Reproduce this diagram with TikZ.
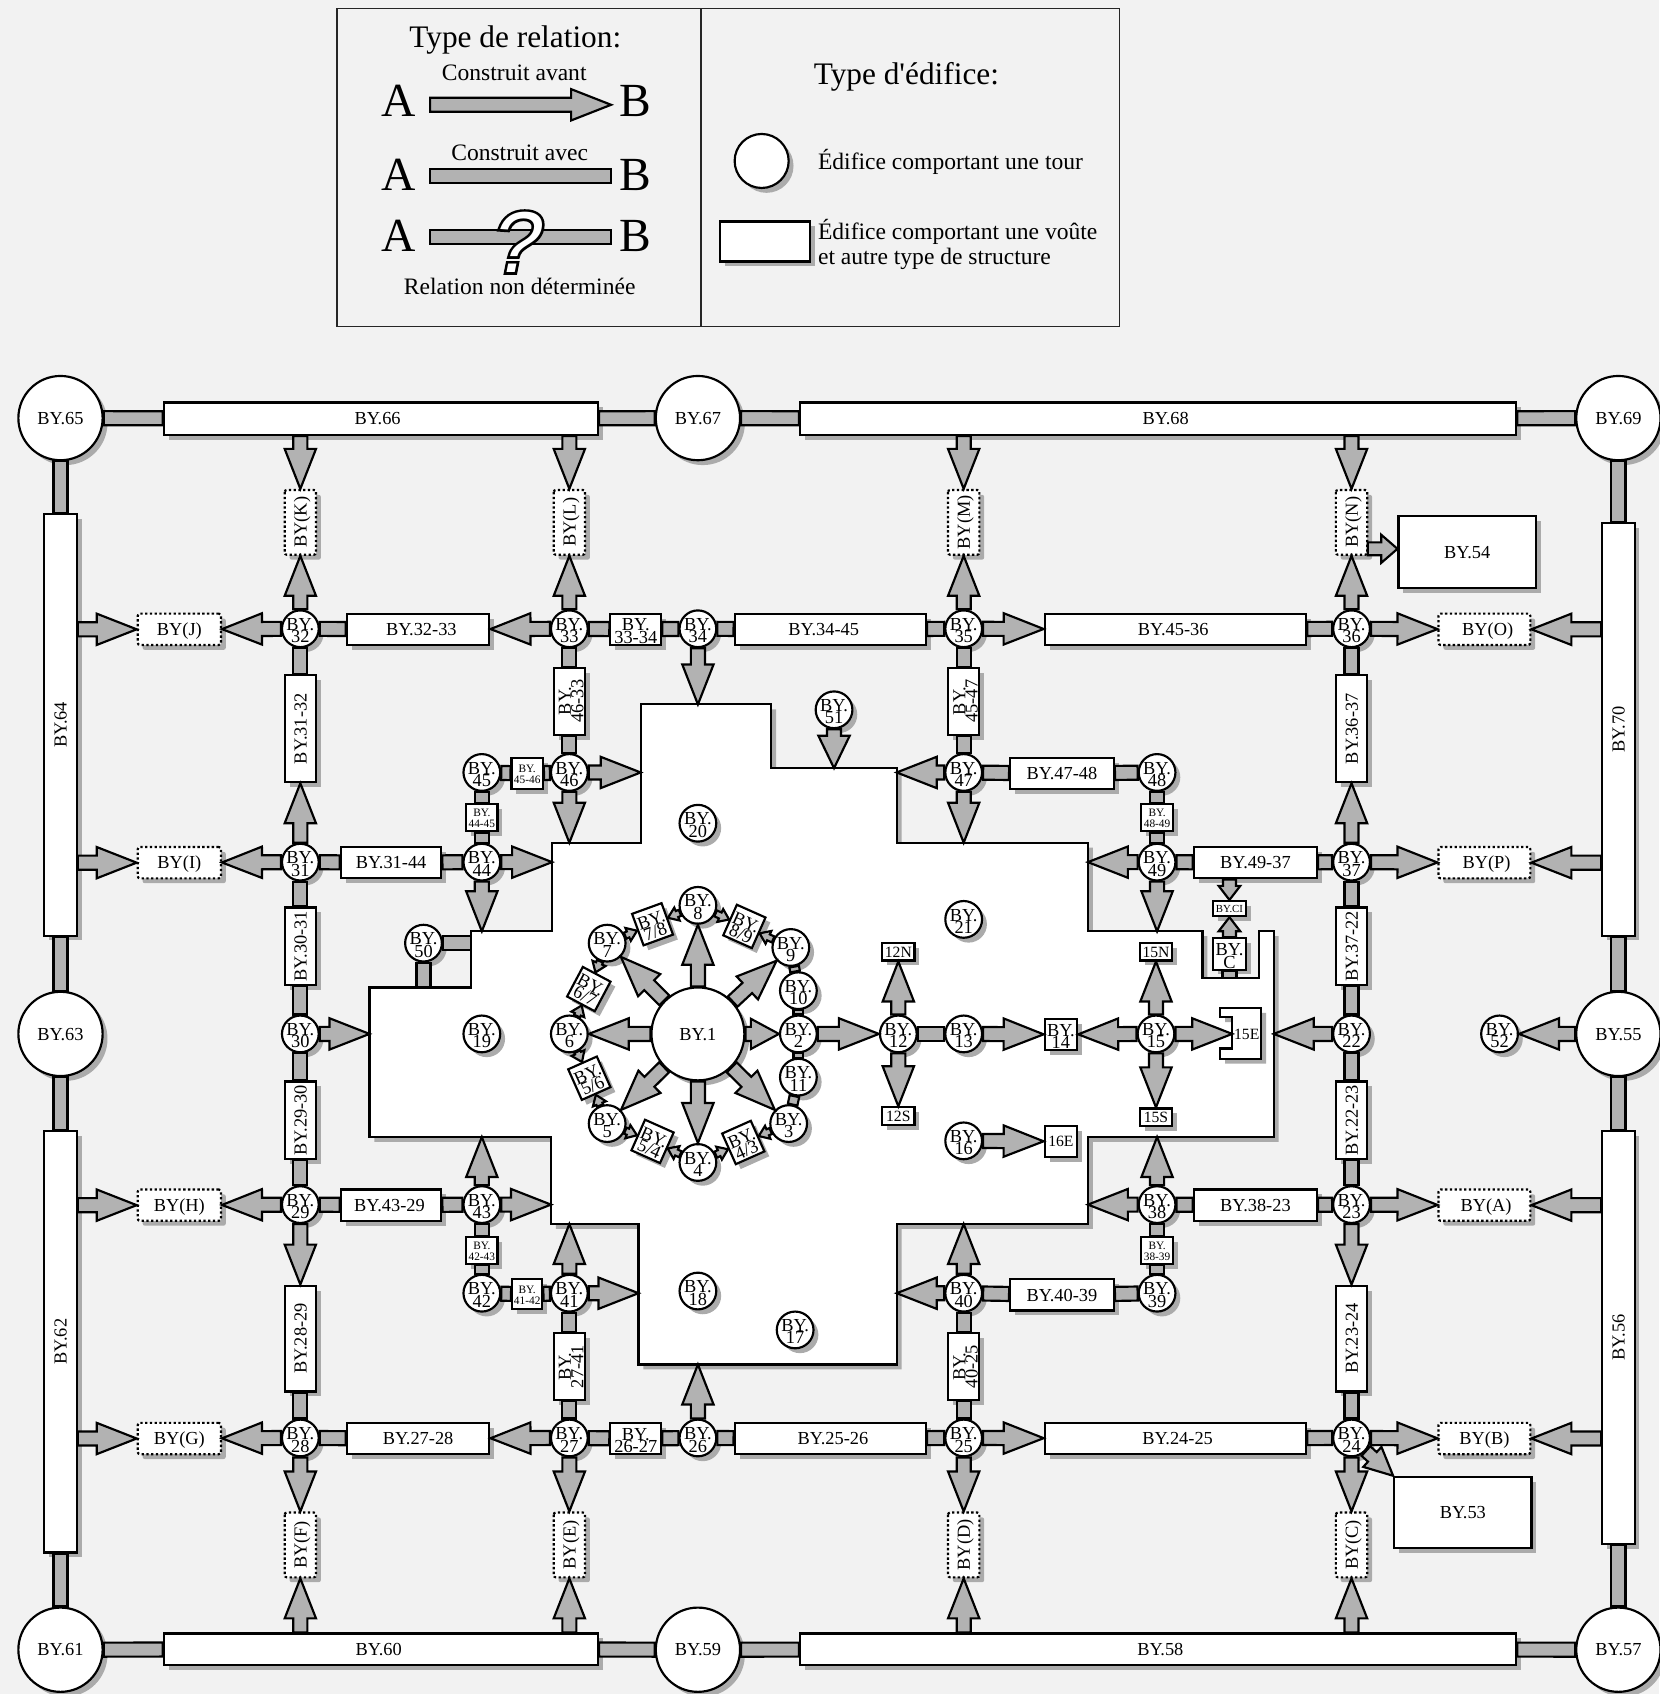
\documentclass[tikz,border=0pt]{standalone}
\usepackage{fontspec}
\setmainfont{Liberation Serif}
\newfontfamily\droit{Liberation Serif}
\newfontfamily\qnoir[FakeSlant=0.2,FakeBold=6]{Liberation Sans}
\newfontfamily\qblanc[FakeSlant=0.2]{Liberation Sans}
\usetikzlibrary{calc,shadows}

% two-line labels of no size, so that the box keeps its own size
\newcommand{\stk}[2]{\makebox[0pt]{\raisebox{4.25pt}[0pt][0pt]{#1}}\makebox[0pt]{\raisebox{-7.25pt}[0pt][0pt]{#2}}}
\newcommand{\stkp}[2]{\makebox[0pt]{\raisebox{6.75pt}[0pt][0pt]{\fontsize{10.5}{9}\selectfont #1}}\makebox[0pt]{\raisebox{-3.25pt}[0pt][0pt]{\fontsize{10.5}{9}\selectfont #2}}}
% block arrows: head length, head half width, shaft half width, from, to
\newcommand{\flecheg}[5]{%
  \path (#4) -- (#5) coordinate[pos=0] (fa) coordinate[pos=1] (fb);
  \coordinate (fh) at ($(fb)!#1!(fa)$);
  \draw[arr] ($(fa)!#3!90:(fb)$) -- ($(fh)!#3!90:(fb)$) -- ($(fh)!#2!90:(fb)$) -- (fb)
    -- ($(fh)!#2!-90:(fb)$) -- ($(fh)!#3!-90:(fb)$) -- ($(fa)!#3!-90:(fb)$) -- cycle;}
\newcommand{\fle}[2]{\flecheg{37pt}{14.5pt}{6.5pt}{#1}{#2}}
\newcommand{\flem}[2]{\flecheg{26pt}{12.5pt}{6pt}{#1}{#2}}
\newcommand{\flep}[2]{\flecheg{9pt}{6.5pt}{3pt}{#1}{#2}}
\newcommand{\barre}[3][6.5pt]{%
  \path (#2) -- (#3) coordinate[pos=0] (fa) coordinate[pos=1] (fb);
  \draw[arr] ($(fa)!#1!90:(fb)$) -- ($(fb)!#1!-90:(fa)$) -- ($(fb)!#1!90:(fa)$) -- ($(fa)!#1!-90:(fb)$) -- cycle;}

\begin{document}
\begin{tikzpicture}[
  x=1pt, y=-1pt,
  font=\fontsize{17}{12}\selectfont,
  ombre/.style={general shadow={fill=black!33, shadow xshift=4.5pt, shadow yshift=-4.5pt}},
  arr/.style={draw=black, fill=black!30, line width=2pt},
  tour/.style={circle, draw=black, fill=white, line width=2pt, inner sep=0pt, minimum size=34pt, text height=11.5pt, text depth=0pt, ombre},
  gtour/.style={tour, minimum size=78pt},
  bloc/.style 2 args={rectangle, draw=black, fill=white, line width=2pt, inner sep=0pt, text height=11.5pt, text depth=0pt,
    minimum width=#1, minimum height=#2, ombre},
  incert/.style 2 args={bloc={#1}{#2}, dash pattern=on 2.2pt off 2.2pt, rounded corners=2pt},
  petit/.style={font=\fontsize{14.5}{15}\selectfont, text height=10pt},
  mur/.style={draw=black, fill=white, line width=2pt, ombre},
  cadre/.style={rectangle, draw=black!85, line width=1.3pt, inner sep=0pt},
  titre/.style={font=\fontsize{29}{30}\selectfont, inner sep=0pt},
  legende/.style={font=\fontsize{21.8}{23}\selectfont, inner sep=0pt},
  lettre/.style={font=\fontsize{44}{46}\selectfont, inner ysep=0pt, text height=29pt}
]
\path[fill=black!5] (0,0) rectangle (1536,1568);
\useasboundingbox (0,0) rectangle (1536,1568);

% legend
\node[cadre, minimum width=337pt, minimum height=294pt] (lg1) at (480.5,155) {};
\node[cadre, minimum width=387pt, minimum height=294pt] (lg2) at (842.5,155) {};
\node[titre] (t1) at (477,37) {Type de relation:};
\node[titre] (t2) at (839,71) {Type d{\droit'}édifice:};
\node[legende] (t3) at (476,67) {Construit avant};
\node[legende] (t4) at (481,141) {Construit avec};
\node[legende] (t5) at (481,265) {Relation non déterminée};
\node[lettre, text depth=8pt, inner xsep=13pt] (a1) at (369,97) {A};
\node[lettre, text depth=8pt, inner xsep=8pt] (b1) at (588.5,97) {B};
\node[lettre, text depth=3pt, inner xsep=13pt] (a2) at (369,163) {A};
\node[lettre, text depth=3pt, inner xsep=8pt] (b2) at (588.5,163) {B};
\node[lettre, text depth=3pt, inner xsep=13pt] (a3) at (369,219.5) {A};
\node[lettre, text depth=3pt, inner xsep=8pt] (b3) at (588.5,219.5) {B};
\fle{a1}{b1}
\barre{a2}{b2}
\barre{a3}{b3}
\node[inner sep=0pt, font=\fontsize{80}{82}\qnoir] (q1) at (474,224) {?};
\node[inner sep=0pt, text=white, font=\fontsize{80}{82}\qblanc] (q2) at (474,224) {?};
\node[tour, minimum size=50pt] (lt) at (705,149) {};
\node[bloc={83pt}{37pt}] (lb) at (708,223.5) {};
\node[legende, anchor=west] (t6) at (757,150) {Édifice comportant une tour};
\node[legende, anchor=west, align=left] (t7) at (757,226.5) {Édifice comportant une voûte\\et autre type de structure};

% building
\draw[mur] (593,652) -- (714,652) -- (714,711) -- (830,711) -- (830,780) -- (1007,780) -- (1007,862)
  -- (1113,862) -- (1113,905) -- (1165,905) -- (1165,862) -- (1179,862) -- (1179,1052.5) -- (1007,1052.5)
  -- (1007,1133) -- (830,1133) -- (830,1263) -- (591,1263) -- (591,1133) -- (510,1133) -- (510,1052.5)
  -- (342,1052.5) -- (342,914) -- (436,914) -- (436,862) -- (511,862) -- (511,780) -- (593,780) -- cycle;
\draw[mur] (1129.5,933) -- (1167.5,933) -- (1167.5,980) -- (1129.5,980) -- (1129.5,970.5) -- (1140.5,970.5)
  -- (1140.5,941.5) -- (1129.5,941.5) -- cycle;
\coordinate (m34) at (646,652);
\coordinate (m51) at (772,711);
\coordinate (m46e) at (593,715);
\coordinate (m46s) at (527,780);
\coordinate (m47o) at (830,715);
\coordinate (m47s) at (892,780);
\coordinate (m44e) at (511,798);
\coordinate (m44s) at (446,862);
\coordinate (m49o) at (1007,798);
\coordinate (m49s) at (1071,862);
\coordinate (m50e) at (436,873);
\coordinate (m50s) at (392,914);
\coordinate (m30) at (342,957);
\coordinate (m22) at (1179,957);
\coordinate (m43n) at (446,1052.5);
\coordinate (m43e) at (510,1115);
\coordinate (m38n) at (1071,1052.5);
\coordinate (m38o) at (1007,1115);
\coordinate (m41n) at (527,1133);
\coordinate (m41e) at (591,1197);
\coordinate (m40n) at (892,1133);
\coordinate (m40o) at (830,1197);
\coordinate (m26) at (646,1263);
\coordinate (mc) at (1138,905);
\coordinate (m15e) at (1140.5,957);

% outer frame
\node[gtour] (b65) at (56,387) {BY.65};
\node[gtour] (b67) at (646,387) {BY.67};
\node[gtour] (b69) at (1498,387) {BY.69};
\node[gtour] (b63) at (56,957) {BY.63};
\node[gtour] (b55) at (1498,957) {BY.55};
\node[gtour] (b61) at (56,1527) {BY.61};
\node[gtour] (b59) at (646,1527) {BY.59};
\node[gtour] (b57) at (1498,1527) {BY.57};
\node[bloc={402pt}{30pt}] (b66) at (352.5,387.5) {BY.66\hspace*{6pt}};
\node[bloc={663pt}{30pt}] (b68) at (1072,387.5) {\hspace*{14pt}BY.68};
\node[bloc={402pt}{29pt}] (b60) at (352.5,1526.5) {BY.60\hspace*{4pt}};
\node[bloc={663pt}{29pt}] (b58) at (1072,1526.5) {\hspace*{4pt}BY.58};
\node[bloc={390pt}{30pt}, rotate=90] (b64) at (56,671) {BY.64};
\node[bloc={390pt}{30pt}, rotate=90] (b62) at (56,1242) {BY.62};
\node[bloc={382pt}{30pt}, rotate=90] (b70) at (1498,675) {BY.70};
\node[bloc={382pt}{30pt}, rotate=90] (b56) at (1498,1238) {BY.56};

% towers
\node[tour, minimum size=86pt] (b1) at (646,957) {BY.1};
\node[tour] (b2) at (739,957) {\stk{BY.}{2}};
\node[tour] (b3) at (730,1040) {\stk{BY.}{3}};
\node[tour] (b4) at (646,1076) {\stk{BY.}{4}};
\node[tour] (b5) at (562,1040) {\stk{BY.}{5}};
\node[tour] (b6) at (527,957) {\stk{BY.}{6}};
\node[tour] (b7) at (562,873) {\stk{BY.}{7}};
\node[tour] (b8) at (646,838) {\stk{BY.}{8}};
\node[tour] (b9) at (732,877) {\stk{BY.}{9}};
\node[tour] (b10) at (739,917) {\stk{BY.}{10}};
\node[tour] (b11) at (739,997) {\stk{BY.}{11}};
\node[tour] (b12) at (831.5,957) {\stk{BY.}{12}};
\node[tour] (b13) at (892,957) {\stk{BY.}{13}};
\node[tour] (b15) at (1070,957) {\stk{BY.}{15}};
\node[tour] (b16) at (892,1056) {\stk{BY.}{16}};
\node[tour] (b17) at (736,1231) {\stk{BY.}{17}};
\node[tour] (b18) at (646,1195) {\stk{BY.}{18}};
\node[tour] (b19) at (446,957) {\stk{BY.}{19}};
\node[tour] (b20) at (646,762) {\stk{BY.}{20}};
\node[tour] (b21) at (892,851) {\stk{BY.}{21}};
\node[tour] (b22) at (1251,957) {\stk{BY.}{22}};
\node[tour] (b23) at (1251,1115) {\stk{BY.}{23}};
\node[tour] (b24) at (1251,1331) {\stk{BY.}{24}};
\node[tour] (b25) at (892,1331) {\stk{BY.}{25}};
\node[tour] (b26) at (646,1331) {\stk{BY.}{26}};
\node[tour] (b27) at (527,1331) {\stk{BY.}{27}};
\node[tour] (b28) at (278,1331) {\stk{BY.}{28}};
\node[tour] (b29) at (278,1115) {\stk{BY.}{29}};
\node[tour] (b30) at (278,957) {\stk{BY.}{30}};
\node[tour] (b31) at (278,798) {\stk{BY.}{31}};
\node[tour] (b32) at (278,582) {\stk{BY.}{32}};
\node[tour] (b33) at (527,582) {\stk{BY.}{33}};
\node[tour] (b34) at (646,582) {\stk{BY.}{34}};
\node[tour] (b35) at (892,582) {\stk{BY.}{35}};
\node[tour] (b36) at (1251,582) {\stk{BY.}{36}};
\node[tour] (b37) at (1251,798) {\stk{BY.}{37}};
\node[tour] (b38) at (1071,1115) {\stk{BY.}{38}};
\node[tour] (b39) at (1071,1197) {\stk{BY.}{39}};
\node[tour] (b40) at (892,1197) {\stk{BY.}{40}};
\node[tour] (b41) at (527,1197) {\stk{BY.}{41}};
\node[tour] (b42) at (446,1197) {\stk{BY.}{42}};
\node[tour] (b43) at (446,1115) {\stk{BY.}{43}};
\node[tour] (b44) at (446,798) {\stk{BY.}{44}};
\node[tour] (b45) at (446,715) {\stk{BY.}{45}};
\node[tour] (b46) at (527,715) {\stk{BY.}{46}};
\node[tour] (b47) at (892,715) {\stk{BY.}{47}};
\node[tour] (b48) at (1071,715) {\stk{BY.}{48}};
\node[tour] (b49) at (1071,798) {\stk{BY.}{49}};
\node[tour] (b50) at (392,873) {\stk{BY.}{50}};
\node[tour] (b51) at (772,657) {\stk{BY.}{51}};
\node[tour] (b52) at (1388,957) {\stk{BY.}{52}};

% tilted boxes of the ring
\node[bloc={29pt}{31pt}, rotate=20] (b78) at (604,855.5) {\stk{BY.}{7/8}};
\node[bloc={29pt}{31pt}, rotate=-24] (b89) at (689,857.5) {\stk{BY.}{8/9}};
\node[bloc={29pt}{31pt}, rotate=-28] (b67b) at (545,915.5) {\stk{BY.}{6/7}};
\node[bloc={29pt}{31pt}, rotate=24] (b56b) at (545.5,998) {\stk{BY.}{5/6}};
\node[bloc={29pt}{31pt}, rotate=-24] (b54b) at (604,1056.5) {\stk{BY.}{5/4}};
\node[bloc={29pt}{31pt}, rotate=24] (b43b) at (688,1057.5) {\stk{BY.}{4/3}};

% small boxes inside
\node[bloc={30pt}{16pt}, petit] (n12) at (831.5,881) {12N};
\node[bloc={30pt}{16pt}, petit] (s12) at (831.5,1033) {12S};
\node[bloc={30pt}{16pt}, petit] (n15) at (1070,881) {15N};
\node[bloc={30pt}{16pt}, petit] (s15) at (1070,1034) {15S};
\node[inner sep=0pt, petit] (e15) at (1154,957) {15E};
\node[bloc={30pt}{29pt}] (b14) at (982,957.5) {\stk{BY.}{14}};
\node[bloc={30pt}{29pt}, petit] (e16) at (982,1056.5) {16E};
\node[bloc={30pt}{29pt}] (bc) at (1138,883) {\stk{BY.}{C}};
\node[bloc={31pt}{14pt}, font=\fontsize{10}{10}\selectfont, text height=7pt] (bc1) at (1138,841) {BY.CI};

% horizontal vaults
\node[bloc={132pt}{29pt}] (b3233) at (387,582.5) {\hspace*{6pt}BY.32-33};
\node[bloc={47pt}{29pt}] (b3334) at (588.5,582.5) {\stk{BY.}{33-34}};
\node[bloc={177pt}{29pt}] (b3445) at (768.5,582.5) {BY.34-45\hspace*{12pt}};
\node[bloc={242pt}{29pt}] (b4536) at (1088,582.5) {BY.45-36\hspace*{4pt}};
\node[bloc={29pt}{29pt}] (b4546) at (488,716) {\stkp{BY.}{45-46}};
\node[bloc={96pt}{29pt}] (b4748) at (983,716) {BY.47-48};
\node[bloc={93pt}{29pt}] (b3144) at (362,798.5) {BY.31-44};
\node[bloc={114pt}{29pt}] (b4937) at (1162,798.5) {BY.49-37};
\node[bloc={93pt}{29pt}] (b4329) at (362,1115.5) {BY.43-29\hspace*{3pt}};
\node[bloc={114pt}{29pt}] (b3823) at (1162,1115.5) {BY.38-23};
\node[bloc={28pt}{28pt}] (b4142) at (488,1198) {\stkp{BY.}{41-42}};
\node[bloc={96pt}{29pt}] (b4039) at (983,1198.5) {BY.40-39};
\node[bloc={132pt}{29pt}] (b2728) at (387,1331.5) {BY.27-28};
\node[bloc={47pt}{29pt}] (b2627) at (588.5,1331.5) {\stk{BY.}{26-27}};
\node[bloc={177pt}{29pt}] (b2526) at (768.5,1331.5) {\hspace*{5pt}BY.25-26};
\node[bloc={242pt}{29pt}] (b2425) at (1088,1331.5) {\hspace*{4pt}BY.24-25};

% vertical vaults
\node[bloc={99pt}{29pt}, rotate=90] (b3132) at (278,674.5) {BY.31-32};
\node[bloc={99pt}{29pt}, rotate=90] (b3637) at (1251,674.5) {BY.36-37};
\node[bloc={62pt}{29pt}, rotate=90] (b4633) at (527,649) {\stk{BY.}{46-33}};
\node[bloc={62pt}{29pt}, rotate=90] (b4547) at (892,649) {\stk{BY.}{45-47}};
\node[bloc={29pt}{25pt}] (b4445) at (446,757) {\stkp{BY.}{44-45}};
\node[bloc={29pt}{25pt}] (b4849) at (1071,757) {\stkp{BY.}{48-49}};
\node[bloc={72pt}{29pt}, rotate=90] (b3031) at (278,876) {BY.30-31};
\node[bloc={72pt}{29pt}, rotate=90] (b3722) at (1251,876) {BY.37-22};
\node[bloc={72pt}{29pt}, rotate=90] (b2930) at (278,1037) {BY.29-30};
\node[bloc={72pt}{29pt}, rotate=90] (b2223) at (1251,1037) {BY.22-23};
\node[bloc={29pt}{25pt}] (b4243) at (446,1157.5) {\stkp{BY.}{42-43}};
\node[bloc={29pt}{25pt}] (b3839) at (1071,1157.5) {\stkp{BY.}{38-39}};
\node[bloc={98pt}{29pt}, rotate=90] (b2829) at (278,1239) {BY.28-29};
\node[bloc={98pt}{29pt}, rotate=90] (b2324) at (1251,1239) {BY.23-24};
\node[bloc={62pt}{29pt}, rotate=90] (b2741) at (527,1265) {\stk{BY.}{27-41}};
\node[bloc={62pt}{29pt}, rotate=90] (b4025) at (892,1265) {\stk{BY.}{40-25}};

% undetermined buildings
\node[incert={60pt}{29pt}, rotate=90] (bk) at (278,483.5) {BY(K)};
\node[incert={60pt}{29pt}, rotate=90] (bl) at (527,483.5) {BY(L)};
\node[incert={60pt}{29pt}, rotate=90] (bm) at (892,483.5) {BY(M)};
\node[incert={60pt}{29pt}, rotate=90] (bn) at (1251,483.5) {BY(N)};
\node[incert={77pt}{29pt}] (bj) at (166,582.5) {BY(J)};
\node[incert={77pt}{29pt}] (bi) at (166,798.5) {BY(I)};
\node[incert={77pt}{29pt}] (bh) at (166,1115.5) {BY(H)};
\node[incert={77pt}{29pt}] (bg) at (166,1331.5) {BY(G)};
\node[incert={85pt}{29pt}] (bo) at (1374,582.5) {\hspace*{6pt}BY(O)};
\node[incert={85pt}{29pt}] (bp) at (1374,798.5) {\hspace*{4pt}BY(P)};
\node[incert={85pt}{29pt}] (ba) at (1374,1115.5) {\hspace*{3pt}BY(A)};
\node[incert={85pt}{29pt}] (bb) at (1374,1331.5) {BY(B)};
\node[incert={60pt}{29pt}, rotate=90] (bf) at (278,1430) {BY(F)};
\node[incert={60pt}{29pt}, rotate=90] (be) at (527,1430) {BY(E)};
\node[incert={60pt}{29pt}, rotate=90] (bd) at (892,1430) {BY(D)};
\node[incert={60pt}{29pt}, rotate=90] (bcc) at (1251,1430) {BY(C)};
\node[bloc={127pt}{66pt}] (b54) at (1358,511) {BY.54};
\node[bloc={127pt}{66pt}] (b53) at (1354,1400) {BY.53};
\coordinate (n54) at (1266,508);

% frame links
\barre{b65}{b66}
\barre{b66}{b67}
\barre{b67}{b68}
\barre{b68}{b69}
\barre{b69}{b70}
\barre{b70}{b55}
\barre{b55}{b56}
\barre{b56}{b57}
\barre{b57}{b58}
\barre{b58}{b59}
\barre{b59}{b60}
\barre{b60}{b61}
\barre{b61}{b62}
\barre{b62}{b63}
\barre{b63}{b64}
\barre{b64}{b65}
\fle{b66.south -| bk}{bk}
\fle{b66.south -| bl}{bl}
\fle{b68.south -| bm}{bm}
\fle{b68.south -| bn}{bn}
\fle{b60.north -| bf}{bf}
\fle{b60.north -| be}{be}
\fle{b58.north -| bd}{bd}
\fle{b58.north -| bcc}{bcc}
\fle{b64.south |- bj}{bj}
\fle{b64.south |- bi}{bi}
\fle{b62.south |- bh}{bh}
\fle{b62.south |- bg}{bg}
\fle{b70.north |- bo}{bo}
\fle{b70.north |- bp}{bp}
\fle{b56.north |- ba}{ba}
\fle{b56.north |- bb}{bb}
\fle{b55}{b52}

% row 582
\fle{b32}{bj}
\fle{b32}{bk}
\barre{b32}{b3233}
\fle{b33}{b3233}
\fle{b33}{bl}
\barre{b33}{b3334}
\barre{b3334}{b34}
\barre{b34}{b3445}
\barre{b3445}{b35}
\fle{b34}{m34}
\fle{b35}{bm}
\fle{b35}{b4536}
\barre{b4536}{b36}
\fle{b36}{bn}
\fle{b36}{bo}
\flecheg{15pt}{13pt}{6pt}{n54}{b54.west |- n54}
% row 715
\barre{b33}{b4633}
\barre{b4633}{b46}
\barre{b45}{b4546}
\barre{b4546}{b46}
\fle{b46}{m46e}
\fle{b46}{m46s}
\barre{b45}{b4445}
\barre{b4445}{b44}
\barre{b35}{b4547}
\barre{b4547}{b47}
\fle{b47}{m47o}
\fle{b47}{m47s}
\barre{b47}{b4748}
\barre{b4748}{b48}
\barre{b48}{b4849}
\barre{b4849}{b49}
\flecheg{30pt}{14.5pt}{6.5pt}{b51}{m51}
% row 798
\fle{b31}{bi}
\fle{b31}{b3132}
\barre{b3132}{b32}
\barre{b31}{b3144}
\barre{b3144}{b44}
\fle{b44}{m44e}
\fle{b44}{m44s}
\barre{b31}{b3031}
\barre{b3031}{b30}
\barre{b50}{m50e}
\barre{b50}{m50s}
\fle{b49}{m49o}
\fle{b49}{m49s}
\barre{b49}{b4937}
\barre{b4937}{b37}
\fle{b37}{bp}
\fle{b37}{b3637}
\barre{b3637}{b36}
\barre{b37}{b3722}
\barre{b3722}{b22}
\flecheg{13pt}{10pt}{6pt}{b4937.south -| bc1}{bc1}
\flecheg{13pt}{10pt}{6pt}{bc}{bc1}
\barre{bc}{mc}
% row 957
\fle{b30}{m30}
\barre{b30}{b2930}
\barre{b2930}{b29}
\fle{b22}{m22}
\barre{b22}{b2223}
\barre{b2223}{b23}
% row 1115
\fle{b29}{bh}
\barre{b29}{b4329}
\barre{b4329}{b43}
\fle{b43}{m43n}
\fle{b43}{m43e}
\barre{b43}{b4243}
\barre{b4243}{b42}
\fle{b29}{b2829}
\barre{b2829}{b28}
\fle{b38}{m38n}
\fle{b38}{m38o}
\barre{b38}{b3823}
\barre{b3823}{b23}
\barre{b38}{b3839}
\barre{b3839}{b39}
\fle{b23}{ba}
\fle{b23}{b2324}
\barre{b2324}{b24}
% row 1197
\barre{b42}{b4142}
\barre{b4142}{b41}
\fle{b41}{m41n}
\fle{b41}{m41e}
\barre{b41}{b2741}
\barre{b2741}{b27}
\fle{b40}{m40n}
\fle{b40}{m40o}
\barre{b40}{b4039}
\barre{b4039}{b39}
\barre{b40}{b4025}
\barre{b4025}{b25}
% row 1331
\fle{b28}{bg}
\fle{b28}{bf}
\barre{b28}{b2728}
\fle{b27}{b2728}
\fle{b27}{be}
\barre{b27}{b2627}
\barre{b2627}{b26}
\fle{b26}{m26}
\barre{b26}{b2526}
\barre{b2526}{b25}
\fle{b25}{bd}
\fle{b25}{b2425}
\barre{b2425}{b24}
\fle{b24}{bb}
\fle{b24}{bcc}
\flem{b24}{b53.north west}
% inside
\flecheg{26pt}{14pt}{6.5pt}{b1}{b2}
\fle{b1}{b3}
\fle{b1}{b4}
\fle{b1}{b5}
\fle{b1}{b6}
\fle{b1}{b7}
\fle{b1}{b8}
\fle{b1}{b9}
\fle{b2}{b12}
\barre[4.5pt]{b2}{b10}
\barre[4.5pt]{b10}{b9}
\barre[4.5pt]{b2}{b11}
\barre[4.5pt]{b11}{b3}
\flep{b8}{b78}
\flep{b7}{b78}
\flep{b7}{b67b}
\flep{b6}{b67b}
\flep{b6}{b56b}
\flep{b5}{b56b}
\flep{b5}{b54b}
\flep{b4}{b54b}
\flep{b4}{b43b}
\flep{b3}{b43b}
\flep{b8}{b89}
\flep{b9}{b89}
\fle{b12}{n12}
\fle{b12}{s12}
\barre{b12}{b13}
\fle{b13}{b14}
\fle{b15}{b14}
\fle{b15}{n15}
\fle{b15}{s15}
\fle{b15}{m15e}
\fle{b16}{e16}
\end{tikzpicture}
\end{document}
